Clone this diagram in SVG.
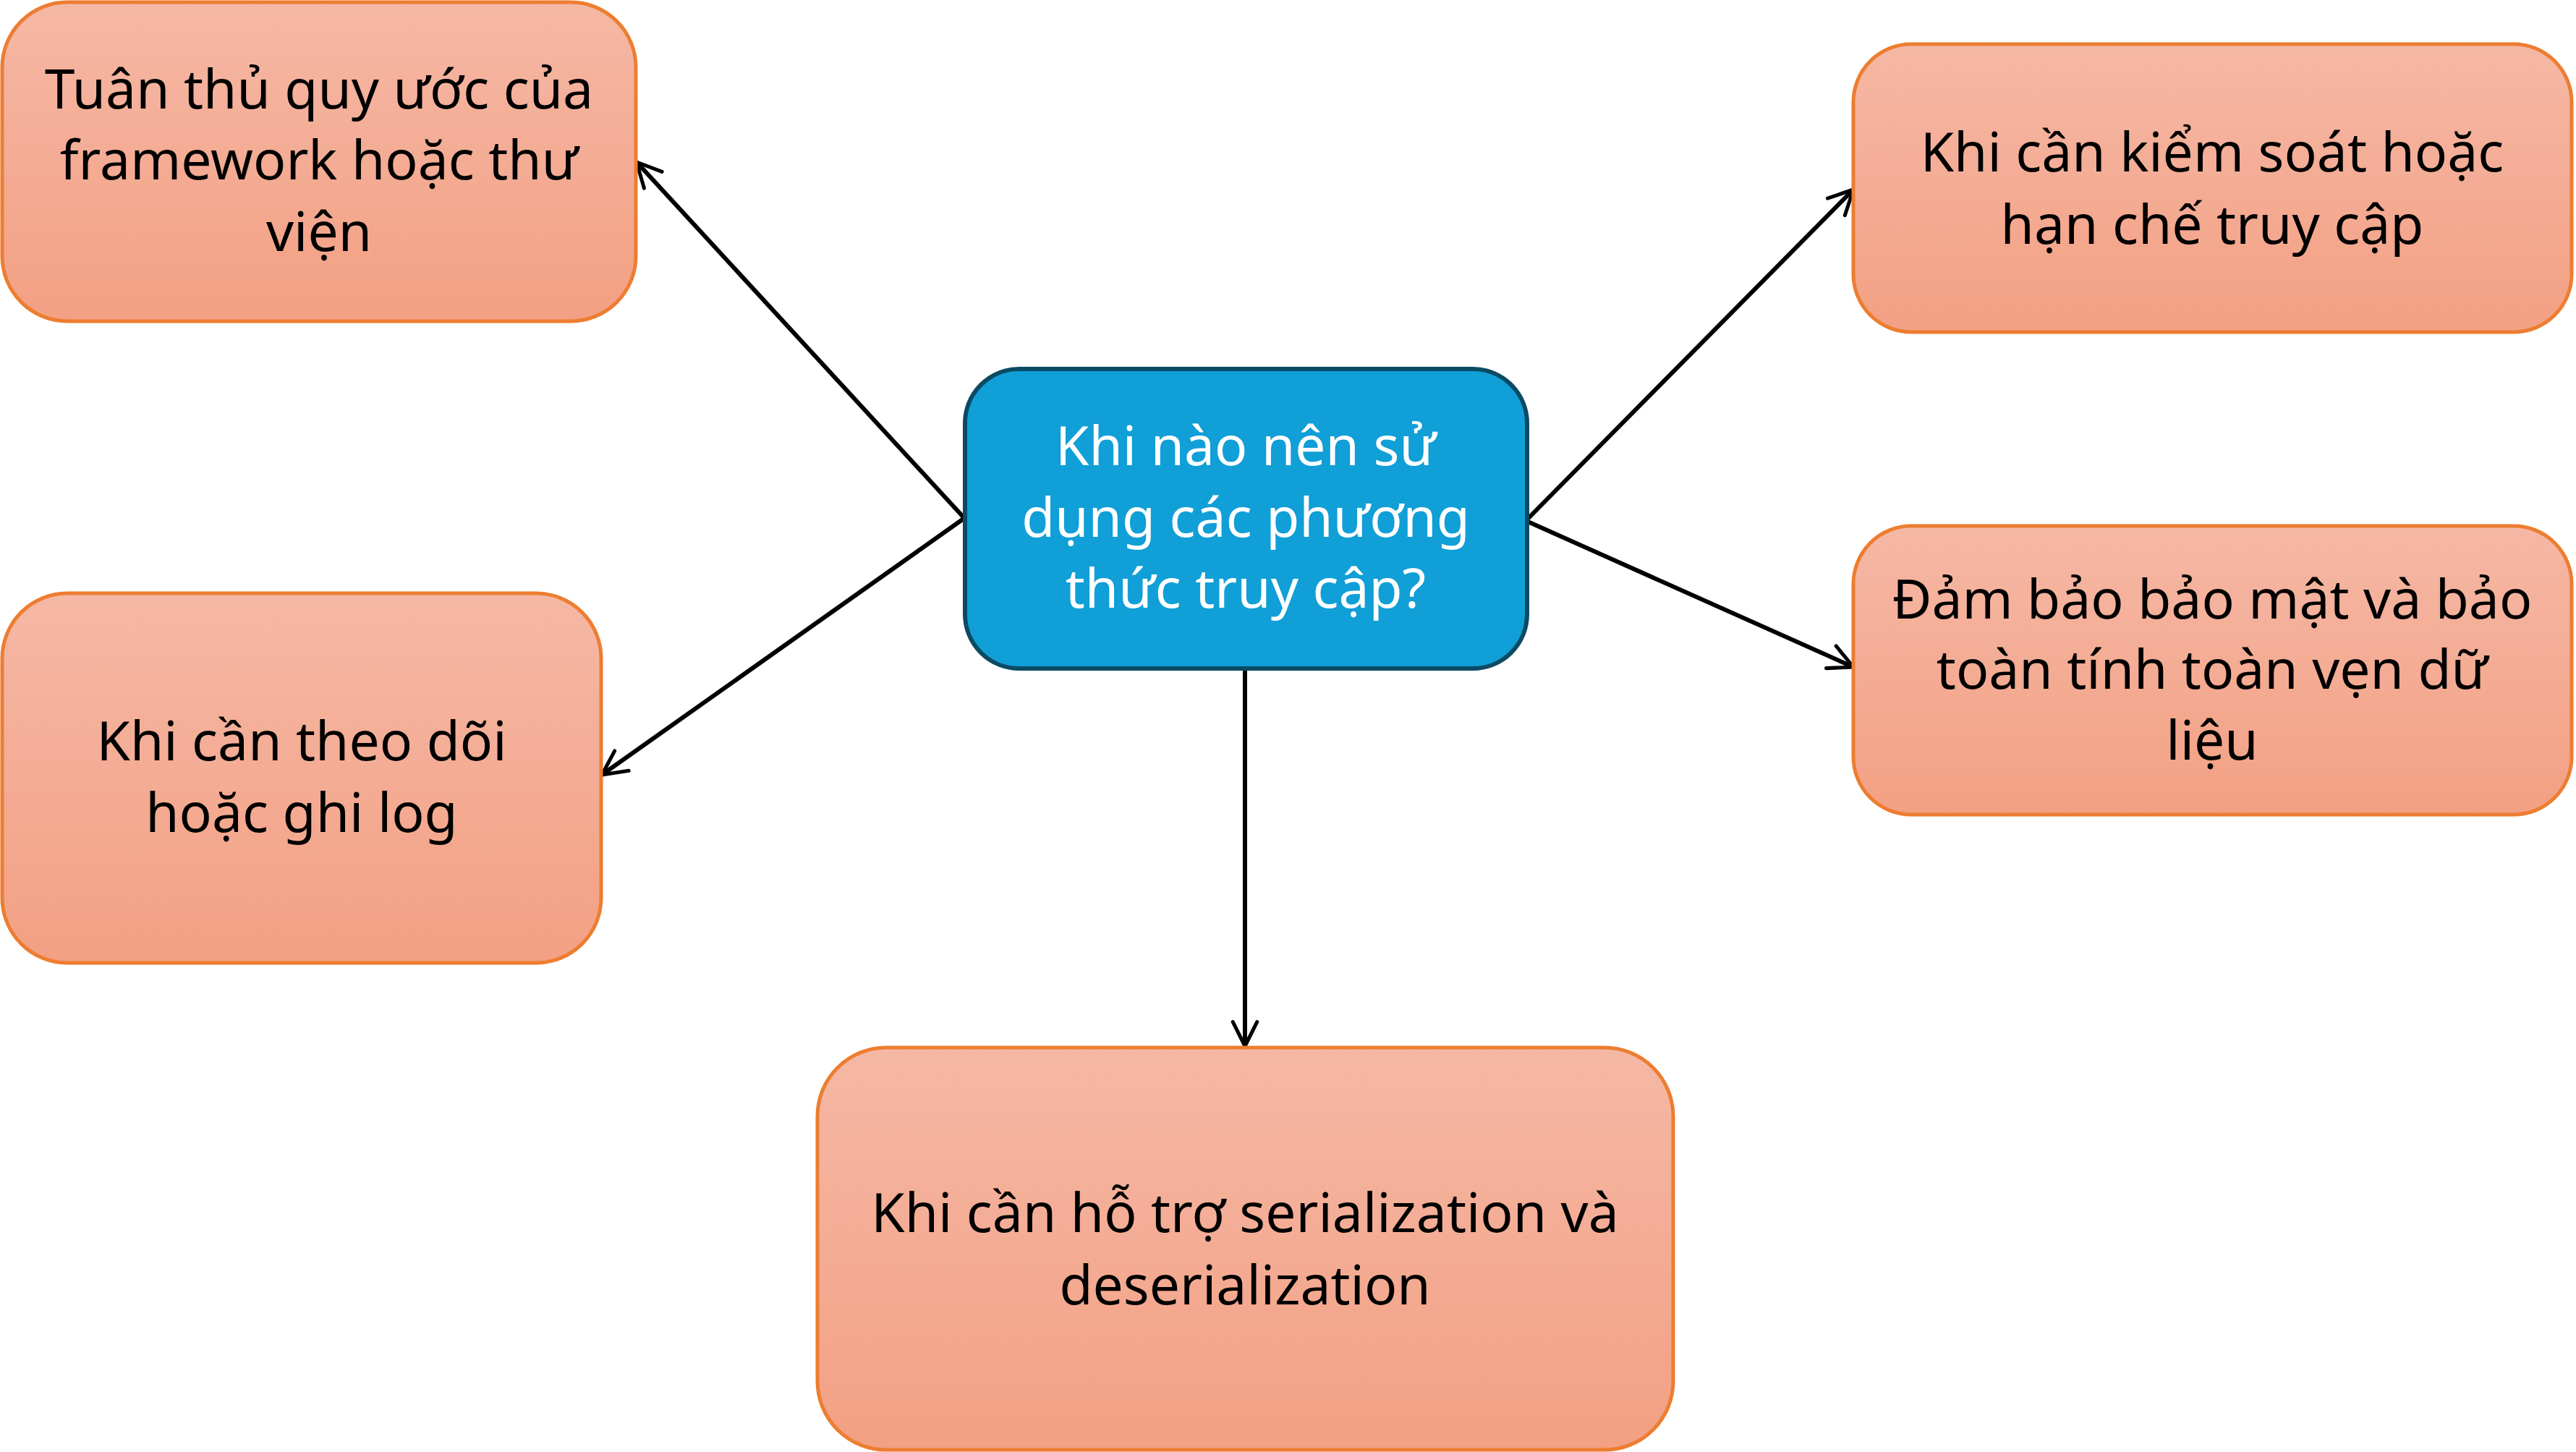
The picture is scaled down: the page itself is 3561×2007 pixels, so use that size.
<svg xmlns="http://www.w3.org/2000/svg" width="3561" height="2007" viewBox="0 0 3561 2007">
<style>
.box{fill:url(#og);stroke:#ED7D31;stroke-width:5}
.ctr{fill:#109FD6;stroke:#0B4A63;stroke-width:6}
.t{font-family:"Noto Sans","Open Sans",sans-serif;font-size:75px;fill:#000;text-anchor:middle}
.tw{fill:#fff}
.c{fill:none;stroke:#000;stroke-width:6}
</style>
<defs>
<linearGradient id="og" x1="0" y1="0" x2="0" y2="1">
<stop offset="0" stop-color="#F5B8A5"/>
<stop offset="1" stop-color="#F3A083"/>
</linearGradient>
<marker id="ah" viewBox="0 0 20 20" refX="18" refY="10" markerWidth="7" markerHeight="7" markerUnits="strokeWidth" orient="auto">
<path d="M2,2 L18,10 L2,18" fill="none" stroke="#000" stroke-width="2.4" stroke-linecap="round" stroke-linejoin="round"/>
</marker>
</defs>
<rect width="3561" height="2007" fill="#fff"/>
<g id="connectors">
<line class="c" x1="1332" y1="715" x2="880" y2="224" marker-end="url(#ah)"/>
<line class="c" x1="1332" y1="717" x2="832" y2="1071" marker-end="url(#ah)"/>
<line class="c" x1="2112" y1="717" x2="2562" y2="262" marker-end="url(#ah)"/>
<line class="c" x1="2112" y1="721" x2="2562" y2="922" marker-end="url(#ah)"/>
<line class="c" x1="1721" y1="925" x2="1721" y2="1446" marker-end="url(#ah)"/>
</g>
<g id="node-center">
<rect class="ctr" x="1334" y="510" width="777" height="414" rx="75"/>
<text class="t tw" x="1722" y="643">Khi nào nên sử</text>
<text class="t tw" x="1722" y="742">dụng các phương</text>
<text class="t tw" x="1722" y="840">thức truy cập?</text>
</g>
<g id="node-tl">
<rect class="box" x="3" y="3" width="876" height="441" rx="90"/>
<text class="t" x="441" y="150">Tuân thủ quy ước của</text>
<text class="t" x="441" y="248">framework hoặc thư</text>
<text class="t" x="441" y="347">viện</text>
</g>
<g id="node-ml">
<rect class="box" x="3" y="820" width="828" height="511" rx="90"/>
<text class="t" x="417" y="1051">Khi cần theo dõi</text>
<text class="t" x="417" y="1150">hoặc ghi log</text>
</g>
<g id="node-tr">
<rect class="box" x="2562" y="61" width="993" height="398" rx="80"/>
<text class="t" x="3058" y="237">Khi cần kiểm soát hoặc</text>
<text class="t" x="3058" y="337">hạn chế truy cập</text>
</g>
<g id="node-mr">
<rect class="box" x="2562" y="727" width="993" height="399" rx="80"/>
<text class="t" x="3058" y="855">Đảm bảo bảo mật và bảo</text>
<text class="t" x="3058" y="952">toàn tính toàn vẹn dữ</text>
<text class="t" x="3058" y="1050">liệu</text>
</g>
<g id="node-bottom">
<rect class="box" x="1130" y="1448" width="1183" height="556" rx="95"/>
<text class="t" x="1721" y="1703">Khi cần hỗ trợ serialization và</text>
<text class="t" x="1721" y="1803">deserialization</text>
</g>
</svg>
